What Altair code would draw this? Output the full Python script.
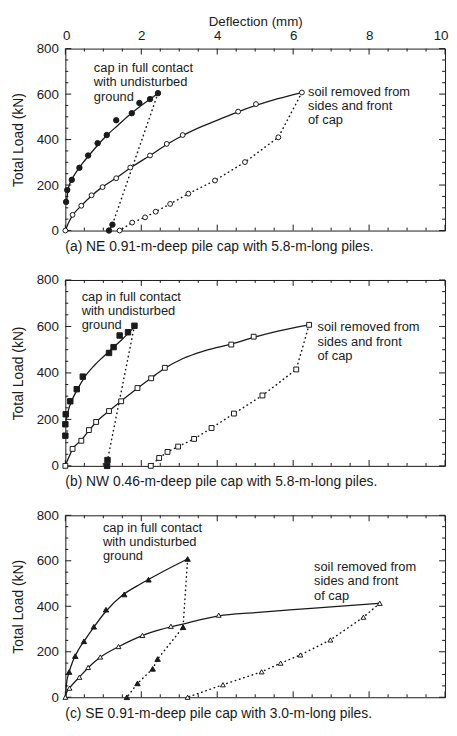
import altair as alt
import pandas as pd

FONT = "Liberation Sans"
INK = "#1a1a1a"

# ---------------- data ----------------
# (a) NE
ne_fc_x = [0.02, 0.05, 0.17, 0.37, 0.60, 0.85, 1.09, 1.34, 1.75, 1.95, 2.23, 2.44]
ne_fc_y = [126, 178, 223, 276, 330, 384, 420, 485, 516, 561, 578, 604]
ne_fu_x = [1.24, 1.15]
ne_fu_y = [26, 0]
ne_oc_x = [0, 0.19, 0.42, 0.69, 0.98, 1.34, 1.71, 2.23, 2.67, 3.09, 4.55, 5.02, 6.23]
ne_oc_y = [0, 69, 109, 155, 191, 230, 277, 330, 381, 420, 523, 556, 607]
ne_ou_x = [5.61, 4.73, 3.94, 3.24, 2.76, 2.38, 2.10, 1.76, 1.43]
ne_ou_y = [410, 301, 220, 162, 117, 83, 58, 35, 0]
ne_fit_f_x = [0.03, 0.08, 0.17, 0.30, 0.45, 0.62, 0.85, 1.10, 1.40, 1.70, 2.00, 2.25, 2.44]
ne_fit_f_y = [125, 185, 225, 260, 295, 330, 375, 420, 465, 510, 550, 580, 604]
ne_fit_o_x = [0, 0.10, 0.20, 0.42, 0.69, 0.98, 1.34, 1.71, 2.23, 2.67, 3.09, 3.60, 4.10, 4.55, 5.02, 5.60, 6.23]
ne_fit_o_y = [0, 40, 69, 109, 153, 192, 231, 275, 330, 378, 418, 458, 492, 522, 550, 580, 607]

# (b) NW
nw_fc_x = [0.00, 0.00, 0.01, 0.13, 0.30, 0.46, 1.15, 1.27, 1.43, 1.65, 1.82]
nw_fc_y = [130, 179, 222, 278, 330, 384, 486, 511, 561, 575, 603]
nw_fu_x = [1.11, 1.10]
nw_fu_y = [25, 0]
nw_oc_x = [0, 0.19, 0.42, 0.62, 0.81, 1.15, 1.47, 1.90, 2.26, 2.62, 4.37, 4.96, 6.42]
nw_oc_y = [0, 73, 108, 154, 189, 236, 278, 335, 377, 422, 522, 556, 607]
nw_ou_x = [6.08, 5.19, 4.44, 3.85, 3.39, 2.97, 2.69, 2.47, 2.25]
nw_ou_y = [415, 303, 225, 163, 116, 83, 60, 34, 0]
nw_fit_f_x = [0.02, 0.08, 0.18, 0.32, 0.50, 0.75, 1.00, 1.25, 1.50, 1.80]
nw_fit_f_y = [195, 240, 285, 330, 380, 430, 470, 508, 545, 595]
nw_fit_o_x = [0, 0.10, 0.19, 0.42, 0.62, 0.81, 1.15, 1.47, 1.90, 2.26, 2.62, 3.10, 3.60, 4.00, 4.37, 4.96, 5.60, 6.42]
nw_fit_o_y = [0, 40, 72, 110, 152, 188, 236, 279, 334, 378, 420, 462, 492, 510, 524, 553, 580, 607]

# (c) SE
se_fc_x = [0.10, 0.26, 0.49, 0.75, 1.07, 1.55, 2.19, 3.22]
se_fc_y = [111, 181, 246, 310, 385, 452, 517, 608]
se_fu_x = [3.10, 2.43, 2.30, 1.90, 1.62]
se_fu_y = [308, 168, 125, 61, 0]
se_oc_x = [0, 0.11, 0.37, 0.60, 0.92, 1.40, 2.03, 2.78, 4.04, 8.28]
se_oc_y = [0, 40, 88, 131, 177, 223, 272, 312, 361, 413]
se_ou_x = [7.85, 6.98, 6.19, 5.67, 5.17, 4.15, 3.22]
se_ou_y = [352, 252, 186, 150, 112, 55, 0]
se_fit_f_x = [0, 0.03, 0.10, 0.20, 0.35, 0.50, 0.75, 1.07, 1.50, 2.00, 2.60, 3.22]
se_fit_f_y = [0, 60, 111, 160, 210, 248, 308, 378, 448, 500, 555, 608]
se_fit_o_x = [0, 0.03, 0.11, 0.37, 0.60, 0.92, 1.40, 2.03, 2.50, 3.10, 4.04, 5.00, 6.00, 7.00, 8.28]
se_fit_o_y = [0, 20, 40, 88, 130, 176, 222, 271, 297, 322, 358, 372, 385, 397, 413]

captions = [
    "(a) NE 0.91-m-deep pile cap with 5.8-m-long piles.",
    "(b) NW 0.46-m-deep pile cap with 5.8-m-long piles.",
    "(c) SE 0.91-m-deep pile cap with 3.0-m-long piles.",
]
label_cap = "cap in full contact\nwith undisturbed\nground"
label_soil = "soil removed from\nsides and front\nof cap"
ann_cap_x = [0.75, 0.43, 0.99]
ann_cap_y = [741, 753, 771]
ann_soil_x = [6.39, 6.64, 6.55]
ann_soil_y = [637, 622, 598]

x_labels = [0, 2, 4, 6, 8, 10]
y_labels = [0, 200, 400, 600, 800]
x_minor = [0.5, 1, 1.5, 2.5, 3, 3.5, 4.5, 5, 5.5, 6.5, 7, 7.5, 8.5, 9, 9.5]
y_minor = [50, 100, 150, 250, 300, 350, 450, 500, 550, 650, 700, 750]

W = 384


def seq(xs, ys):
    return pd.DataFrame({"x": xs, "y": ys, "i": list(range(len(xs)))})


def panel(k, fc, fu, oc, ou, fit_f, fit_o, shape, H, top):
    xs = alt.Scale(domain=[0, 10], nice=False, zero=False)
    ys = alt.Scale(domain=[0, 800], nice=False, zero=False)
    if top:
        xaxis = alt.Axis(orient="top", values=x_labels, title="Deflection (mm)",
                         ticks=False, domain=False, grid=False, labelFlush=True,
                         labelFlushOffset=3, labelPadding=6, titlePadding=0,
                         titleFontSize=13.5)
    else:
        xaxis = None
    yaxis = alt.Axis(orient="left", values=y_labels, title="Total Load (kN)",
                     ticks=False, domain=False, grid=False, labelFlush=False,
                     labelPadding=7, titlePadding=11)

    def X(f):
        return alt.X(f, type="quantitative", scale=xs, axis=xaxis)

    def Y(f):
        return alt.Y(f, type="quantitative", scale=ys, axis=yaxis)

    layers = []
    # inward tick marks on all four sides
    for vals, ln in [(x_labels, 6), (x_minor, 3)]:
        base = alt.Chart(pd.DataFrame({"v": vals})).mark_rule(color=INK, strokeWidth=1)
        layers.append(base.encode(x=X("v"), y=alt.value(0), y2=alt.value(ln)))
        layers.append(base.encode(x=X("v"), y=alt.value(H), y2=alt.value(H - ln)))
    for vals, ln in [(y_labels, 6), (y_minor, 3)]:
        base = alt.Chart(pd.DataFrame({"v": vals})).mark_rule(color=INK, strokeWidth=1)
        layers.append(base.encode(y=Y("v"), x=alt.value(0), x2=alt.value(ln)))
        layers.append(base.encode(y=Y("v"), x=alt.value(W), x2=alt.value(W - ln)))

    # dotted unloading paths
    for load, unl in [(fc, fu), (oc, ou)]:
        px = [load[0][-1]] + unl[0]
        py = [load[1][-1]] + unl[1]
        layers.append(
            alt.Chart(seq(px, py)).mark_line(color=INK, strokeWidth=1.5,
                                             strokeDash=[0.5, 4], strokeCap="round")
            .encode(x=X("x"), y=Y("y"), order="i:Q"))
    # fitted curves
    for fit in [fit_f, fit_o]:
        layers.append(
            alt.Chart(seq(*fit)).mark_line(color=INK, strokeWidth=1.3, interpolate="monotone")
            .encode(x=X("x"), y=Y("y"), order="i:Q"))
    # markers
    for pts in [oc, ou]:
        layers.append(
            alt.Chart(seq(*pts)).mark_point(shape=shape, filled=True, fill="white",
                                            stroke=INK, strokeWidth=1, size=24, opacity=1)
            .encode(x=X("x"), y=Y("y")))
    for pts in [fc, fu]:
        layers.append(
            alt.Chart(seq(*pts)).mark_point(shape=shape, filled=True, fill=INK,
                                            stroke=INK, strokeWidth=1, size=30, opacity=1)
            .encode(x=X("x"), y=Y("y")))
    # annotations
    ann = pd.DataFrame({"x": [ann_cap_x[k], ann_soil_x[k]],
                        "y": [ann_cap_y[k], ann_soil_y[k]],
                        "t": [label_cap, label_soil]})
    layers.append(
        alt.Chart(ann).mark_text(align="left", baseline="top", lineBreak="\n",
                                 fontSize=13, lineHeight=14.5, font=FONT, color=INK)
        .encode(x=X("x"), y=Y("y"), text="t:N"))

    return alt.layer(*layers).properties(
        width=W, height=H,
        title=alt.TitleParams(text=captions[k], orient="bottom", anchor="start",
                              frame="group", offset=3, fontSize=14, font=FONT,
                              fontWeight="normal", color=INK),
    )


p1 = panel(0, (ne_fc_x, ne_fc_y), (ne_fu_x, ne_fu_y), (ne_oc_x, ne_oc_y), (ne_ou_x, ne_ou_y),
           (ne_fit_f_x, ne_fit_f_y), (ne_fit_o_x, ne_fit_o_y), "circle", 184, True)
p2 = panel(1, (nw_fc_x, nw_fc_y), (nw_fu_x, nw_fu_y), (nw_oc_x, nw_oc_y), (nw_ou_x, nw_ou_y),
           (nw_fit_f_x, nw_fit_f_y), (nw_fit_o_x, nw_fit_o_y), "square", 188, False)
p3 = panel(2, (se_fc_x, se_fc_y), (se_fu_x, se_fu_y), (se_oc_x, se_oc_y), (se_ou_x, se_ou_y),
           (se_fit_f_x, se_fit_f_y), (se_fit_o_x, se_fit_o_y), "triangle-up", 184, False)

chart = (
    alt.vconcat(p1, p2, p3, spacing=18)
    .properties(padding={"left": 2, "top": 2, "right": 0, "bottom": 0})
    .configure_view(stroke=INK, strokeWidth=1)
    .configure_axis(labelFont=FONT, titleFont=FONT, labelFontSize=13.5, titleFontSize=14,
                    titleFontWeight="normal", labelColor=INK, titleColor=INK)
)

chart.save("out.html", embed_options={"renderer": "svg", "actions": False})
